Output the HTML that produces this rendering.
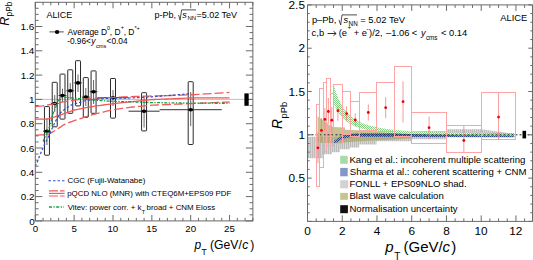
<!DOCTYPE html>
<html><head><meta charset="utf-8"><style>
html,body{margin:0;padding:0;background:#fff;}
svg{display:block;}
text{font-family:"Liberation Sans",sans-serif;fill:#000;}
</style></head><body>
<svg width="533" height="260" viewBox="0 0 533 260">
<rect width="533" height="260" fill="#fff"/>
<defs>
<pattern id="pg" patternUnits="userSpaceOnUse" width="2" height="2"><rect width="2" height="2" fill="#f2faf2"/><rect x="0" y="0" width="1" height="1" fill="#86d086"/><rect x="1" y="1" width="1" height="1" fill="#86d086"/></pattern>
<pattern id="pb" patternUnits="userSpaceOnUse" width="2" height="2"><rect width="2" height="2" fill="#909cc8"/><rect x="0" y="0" width="1" height="1" fill="#2c4690"/><rect x="1" y="1" width="1" height="1" fill="#2c4690"/></pattern>
<pattern id="pgray" patternUnits="userSpaceOnUse" width="2" height="2"><rect width="2" height="2" fill="#d6d6d6"/><rect x="0" y="0" width="1" height="2" fill="#bcbcbc"/></pattern>
<pattern id="polive" patternUnits="userSpaceOnUse" width="2" height="2"><rect width="2" height="2" fill="#c4b47a"/><rect x="0" y="0" width="2" height="1" fill="#ae9e62"/></pattern>
</defs>
<line x1="35.30" y1="99.40" x2="252.86" y2="99.40" stroke="#b0b0b0" stroke-width="0.8"/>
<rect x="44.45" y="106.60" width="5" height="48.60" fill="none" stroke="#2a2a2a" stroke-width="1" rx="0.6"/>
<line x1="46.95" y1="118.00" x2="46.95" y2="145.00" stroke="#666" stroke-width="1"/>
<line x1="43.07" y1="131.20" x2="50.84" y2="131.20" stroke="#333" stroke-width="1"/>
<ellipse cx="46.95" cy="131.20" rx="2.4" ry="1.8" fill="#000"/>
<rect x="52.22" y="82.30" width="5" height="44.50" fill="none" stroke="#2a2a2a" stroke-width="1" rx="0.6"/>
<line x1="54.72" y1="95.00" x2="54.72" y2="112.00" stroke="#666" stroke-width="1"/>
<line x1="50.84" y1="103.50" x2="58.61" y2="103.50" stroke="#333" stroke-width="1"/>
<ellipse cx="54.72" cy="103.50" rx="2.4" ry="1.8" fill="#000"/>
<rect x="59.99" y="74.10" width="5" height="45.00" fill="none" stroke="#2a2a2a" stroke-width="1" rx="0.6"/>
<line x1="62.49" y1="88.70" x2="62.49" y2="102.00" stroke="#666" stroke-width="1"/>
<line x1="58.61" y1="95.50" x2="66.38" y2="95.50" stroke="#333" stroke-width="1"/>
<ellipse cx="62.49" cy="95.50" rx="2.4" ry="1.8" fill="#000"/>
<rect x="67.76" y="69.80" width="5" height="43.50" fill="none" stroke="#2a2a2a" stroke-width="1" rx="0.6"/>
<line x1="70.26" y1="83.00" x2="70.26" y2="99.00" stroke="#666" stroke-width="1"/>
<line x1="66.38" y1="90.80" x2="74.15" y2="90.80" stroke="#333" stroke-width="1"/>
<ellipse cx="70.26" cy="90.80" rx="2.4" ry="1.8" fill="#000"/>
<rect x="75.53" y="60.70" width="5" height="45.20" fill="none" stroke="#2a2a2a" stroke-width="1" rx="0.6"/>
<line x1="78.03" y1="74.50" x2="78.03" y2="92.00" stroke="#666" stroke-width="1"/>
<line x1="74.15" y1="82.90" x2="81.92" y2="82.90" stroke="#333" stroke-width="1"/>
<ellipse cx="78.03" cy="82.90" rx="2.4" ry="1.8" fill="#000"/>
<rect x="83.30" y="77.60" width="5" height="39.70" fill="none" stroke="#2a2a2a" stroke-width="1" rx="0.6"/>
<line x1="85.80" y1="88.00" x2="85.80" y2="106.00" stroke="#666" stroke-width="1"/>
<line x1="81.92" y1="97.10" x2="89.69" y2="97.10" stroke="#333" stroke-width="1"/>
<ellipse cx="85.80" cy="97.10" rx="2.4" ry="1.8" fill="#000"/>
<rect x="91.07" y="70.90" width="5" height="42.40" fill="none" stroke="#2a2a2a" stroke-width="1" rx="0.6"/>
<line x1="93.57" y1="80.00" x2="93.57" y2="104.00" stroke="#666" stroke-width="1"/>
<line x1="89.69" y1="91.70" x2="97.46" y2="91.70" stroke="#333" stroke-width="1"/>
<ellipse cx="93.57" cy="91.70" rx="2.4" ry="1.8" fill="#000"/>
<rect x="110.50" y="78.50" width="5" height="39.60" fill="none" stroke="#2a2a2a" stroke-width="1" rx="0.6"/>
<line x1="113.00" y1="90.00" x2="113.00" y2="106.00" stroke="#666" stroke-width="1"/>
<line x1="97.46" y1="97.70" x2="128.54" y2="97.70" stroke="#333" stroke-width="1"/>
<ellipse cx="113.00" cy="97.70" rx="2.4" ry="1.8" fill="#000"/>
<rect x="141.58" y="92.70" width="5" height="38.20" fill="none" stroke="#2a2a2a" stroke-width="1" rx="0.6"/>
<line x1="144.08" y1="96.00" x2="144.08" y2="127.50" stroke="#666" stroke-width="1"/>
<line x1="128.54" y1="111.20" x2="159.62" y2="111.20" stroke="#333" stroke-width="1"/>
<ellipse cx="144.08" cy="111.20" rx="2.4" ry="1.8" fill="#000"/>
<rect x="188.20" y="81.70" width="5" height="62.80" fill="none" stroke="#2a2a2a" stroke-width="1" rx="0.6"/>
<line x1="190.70" y1="92.00" x2="190.70" y2="126.20" stroke="#666" stroke-width="1"/>
<line x1="159.62" y1="109.70" x2="221.78" y2="109.70" stroke="#333" stroke-width="1"/>
<ellipse cx="190.70" cy="109.70" rx="2.4" ry="1.8" fill="#000"/>
<polyline points="35.30,106.60 37.73,106.35 40.16,106.10 42.58,105.85 45.01,105.45 47.44,105.01 49.87,104.58 52.30,104.10 54.72,103.60 57.15,103.10 59.58,102.61 62.01,102.14 64.44,101.67 66.87,101.23 69.29,100.91 71.72,100.58 74.15,100.25 76.58,99.92 79.01,99.59 81.43,99.27 83.86,99.08 86.29,98.93 88.72,98.78 91.15,98.63 93.57,98.48 96.00,98.33 98.43,98.18 100.86,98.03 103.29,97.90 105.72,97.78 108.14,97.65 110.57,97.53 113.00,97.40 115.43,97.28 117.86,97.15 120.28,97.03 122.71,96.93 125.14,96.85 127.57,96.77 130.00,96.68 132.43,96.60 134.85,96.52 137.28,96.43 139.71,96.35 142.14,96.27 144.57,96.19 146.99,96.12 149.42,96.06 151.85,96.00 154.28,95.94 156.71,95.88 159.13,95.81 161.56,95.75 163.99,95.69 166.42,95.62 168.85,95.56 171.27,95.50 173.70,95.44 176.13,95.36 178.56,95.25 180.99,95.15 183.42,95.05 185.84,94.94 188.27,94.84 190.70,94.73 193.13,94.63 195.56,94.53 197.98,94.42 200.41,94.28 202.84,94.12 205.27,93.96 207.70,93.81 210.12,93.65 212.55,93.49 214.98,93.34 217.41,93.18 219.84,93.03 222.27,92.87 224.69,92.71 227.12,92.56 229.55,92.40" fill="none" stroke="#f05a5a" stroke-width="1.3" stroke-dasharray="9,3"/>
<polyline points="35.30,119.20 37.73,119.20 40.16,119.20 42.58,119.20 45.01,119.20 47.44,119.05 49.87,118.30 52.30,117.55 54.72,116.80 57.15,115.98 59.58,115.17 62.01,114.35 64.44,113.53 66.87,112.66 69.29,111.77 71.72,110.89 74.15,110.00 76.58,109.54 79.01,109.08 81.43,108.61 83.86,108.15 86.29,107.69 88.72,107.22 91.15,106.76 93.57,106.30 96.00,105.97 98.43,105.64 100.86,105.32 103.29,104.99 105.72,104.66 108.14,104.33 110.57,104.04 113.00,103.77 115.43,103.50 117.86,103.22 120.28,102.95 122.71,102.68 125.14,102.41 127.57,102.14 130.00,101.87 132.43,101.60 134.85,101.35 137.28,101.10 139.71,100.85 142.14,100.60 144.57,100.35 146.99,100.10 149.42,99.85 151.85,99.60 154.28,99.50 156.71,99.40 159.13,99.30 161.56,99.20 163.99,99.10 166.42,99.00 168.85,98.90 171.27,98.80 173.70,98.70 176.13,98.60 178.56,98.50 180.99,98.40 183.42,98.30 185.84,98.20 188.27,98.10 190.70,98.00 193.13,97.99 195.56,97.97 197.98,97.96 200.41,97.95 202.84,97.94 205.27,97.92 207.70,97.91 210.12,97.90 212.55,97.89 214.98,97.88 217.41,97.86 219.84,97.85 222.27,97.84 224.69,97.83 227.12,97.81 229.55,97.80" fill="none" stroke="#f05a5a" stroke-width="1.3"/>
<polyline points="35.30,135.20 37.73,135.08 40.16,134.97 42.58,134.85 45.01,134.73 47.44,134.61 49.87,133.47 52.30,132.18 54.72,130.79 57.15,129.21 59.58,127.62 62.01,126.04 64.44,124.45 66.87,123.41 69.29,122.47 71.72,121.54 74.15,120.60 76.58,119.82 79.01,119.04 81.43,118.26 83.86,117.47 86.29,116.69 88.72,115.91 91.15,115.13 93.57,114.41 96.00,113.81 98.43,113.21 100.86,112.61 103.29,112.01 105.72,111.41 108.14,110.81 110.57,110.21 113.00,109.69 115.43,109.36 117.86,109.02 120.28,108.68 122.71,108.35 125.14,108.01 127.57,107.67 130.00,107.34 132.43,107.00 134.85,106.78 137.28,106.55 139.71,106.33 142.14,106.10 144.57,105.88 146.99,105.65 149.42,105.42 151.85,105.20 154.28,105.10 156.71,105.00 159.13,104.90 161.56,104.79 163.99,104.69 166.42,104.59 168.85,104.49 171.27,104.39 173.70,104.29 176.13,104.19 178.56,104.09 180.99,103.98 183.42,103.88 185.84,103.79 188.27,103.69 190.70,103.59 193.13,103.49 195.56,103.39 197.98,103.29 200.41,103.19 202.84,103.09 205.27,102.99 207.70,102.89 210.12,102.79 212.55,102.69 214.98,102.60 217.41,102.50 219.84,102.40 222.27,102.30 224.69,102.20 227.12,102.10 229.55,102.00" fill="none" stroke="#f05a5a" stroke-width="1.3" stroke-dasharray="9,3"/>
<polyline points="35.30,166.60 36.85,162.73 38.41,158.87 39.96,155.00 41.52,151.41 43.07,147.83 44.62,144.30 46.18,141.28 47.73,138.27 49.29,135.22 50.84,131.53 52.39,127.85 53.95,124.57 55.50,121.36 57.06,118.54 58.61,115.89 60.16,113.23 61.72,111.56 63.27,110.42 64.83,109.28 66.38,108.15 67.93,107.01 69.49,105.87 71.04,105.06 72.60,104.58 74.15,104.10 75.70,103.62 77.26,103.14 78.81,102.66 80.37,102.18 81.92,101.70 83.47,101.22 85.03,100.74 86.58,100.41 88.14,100.22 89.69,100.03 91.24,99.83 92.80,99.64 94.35,99.45 95.91,99.27 97.46,99.07 99.01,98.88 100.57,98.69 102.12,98.58 103.68,98.55 105.23,98.52 106.78,98.49 108.34,98.45 109.89,98.42 111.45,98.39 113.00,98.36 114.55,98.32 116.11,98.29 117.66,98.26 119.22,98.23 120.77,98.19 122.32,98.16 123.88,98.13 125.43,98.10 126.99,98.06 128.54,98.03 130.09,98.00 131.65,97.92 133.20,97.83 134.76,97.75 136.31,97.66 137.86,97.58 139.42,97.49 140.97,97.41 142.53,97.32 144.08,97.24 145.63,97.15 147.19,97.07 148.74,96.98 150.30,96.90 151.85,96.78 153.40,96.66 154.96,96.55 156.51,96.43 158.07,96.31 159.62,96.19 161.17,96.07 162.73,95.95 164.28,95.84 165.84,95.72 167.39,95.60 168.94,95.47 170.50,95.33 172.05,95.20 173.61,95.07 175.16,94.93 176.71,94.80 178.27,94.67 179.82,94.53 181.38,94.40 182.93,94.27 184.48,94.13 186.04,94.00 187.59,93.87 189.15,93.73 190.70,93.60" fill="none" stroke="#3050c8" stroke-width="1.2" stroke-dasharray="2.5,2"/>
<polyline points="43.07,141.50 44.62,137.93 46.18,134.37 47.73,130.80 49.29,127.23 50.84,123.00 52.39,115.00 53.95,111.38 55.50,107.75 57.06,104.12 58.61,100.50 60.16,99.02 61.72,97.54 63.27,96.90 64.83,97.10 66.38,97.30 67.93,97.50 69.49,97.70 71.04,97.87 72.60,98.01 74.15,98.15 75.70,98.29 77.26,98.43 78.81,98.58 80.37,98.72 81.92,98.86 83.47,99.00 85.03,99.14 86.58,99.28 88.14,99.42 89.69,99.56 91.24,99.70 92.80,99.84 94.35,99.99 95.91,100.13 97.46,100.27 99.01,100.41 100.57,100.54 102.12,100.65 103.68,100.76 105.23,100.87 106.78,100.98 108.34,101.09 109.89,101.20 111.45,101.25 113.00,101.29 114.55,101.34 116.11,101.38 117.66,101.43 119.22,101.48 120.77,101.52 122.32,101.57 123.88,101.62 125.43,101.66 126.99,101.71 128.54,101.75 130.09,101.80 131.65,101.86 133.20,101.91 134.76,101.97 136.31,102.03 137.86,102.09 139.42,102.14 140.97,102.20 142.53,102.26 144.08,102.31 145.63,102.37 147.19,102.43 148.74,102.49 150.30,102.54 151.85,102.60 153.40,102.62 154.96,102.64 156.51,102.66 158.07,102.68 159.62,102.70 161.17,102.72 162.73,102.74 164.28,102.76 165.84,102.78 167.39,102.80 168.94,102.82 170.50,102.84 172.05,102.86 173.61,102.88 175.16,102.90 176.71,102.92 178.27,102.94 179.82,102.96 181.38,102.98 182.93,103.00 184.48,103.02 186.04,103.04 187.59,103.06 189.15,103.08 190.70,103.10 192.25,103.11 193.81,103.12 195.36,103.12 196.92,103.13 198.47,103.14 200.02,103.15 201.58,103.16 203.13,103.16 204.69,103.17 206.24,103.18 207.79,103.19 209.35,103.20 210.90,103.20 212.46,103.21 214.01,103.22 215.56,103.23 217.12,103.24 218.67,103.24 220.23,103.25 221.78,103.26 223.33,103.27 224.89,103.28 226.44,103.28 228.00,103.29 229.55,103.30" fill="none" stroke="#10a040" stroke-width="1.3" stroke-dasharray="3,1.5,1.2,1.5"/>
<rect x="35.30" y="2.30" width="217.56" height="218.60" fill="none" stroke="#6a6a6a" stroke-width="1"/>
<path d="M35.30,220.90v-6M35.30,2.30v6M43.07,220.90v-3M43.07,2.30v3M50.84,220.90v-3M50.84,2.30v3M58.61,220.90v-3M58.61,2.30v3M66.38,220.90v-3M66.38,2.30v3M74.15,220.90v-6M74.15,2.30v6M81.92,220.90v-3M81.92,2.30v3M89.69,220.90v-3M89.69,2.30v3M97.46,220.90v-3M97.46,2.30v3M105.23,220.90v-3M105.23,2.30v3M113.00,220.90v-6M113.00,2.30v6M120.77,220.90v-3M120.77,2.30v3M128.54,220.90v-3M128.54,2.30v3M136.31,220.90v-3M136.31,2.30v3M144.08,220.90v-3M144.08,2.30v3M151.85,220.90v-6M151.85,2.30v6M159.62,220.90v-3M159.62,2.30v3M167.39,220.90v-3M167.39,2.30v3M175.16,220.90v-3M175.16,2.30v3M182.93,220.90v-3M182.93,2.30v3M190.70,220.90v-6M190.70,2.30v6M198.47,220.90v-3M198.47,2.30v3M206.24,220.90v-3M206.24,2.30v3M214.01,220.90v-3M214.01,2.30v3M221.78,220.90v-3M221.78,2.30v3M229.55,220.90v-6M229.55,2.30v6M237.32,220.90v-3M237.32,2.30v3M245.09,220.90v-3M245.09,2.30v3M252.86,220.90v-3M252.86,2.30v3M35.30,220.90h7.0M252.86,220.90h-7.0M35.30,214.83h3.3M252.86,214.83h-3.3M35.30,208.75h3.3M252.86,208.75h-3.3M35.30,202.68h3.3M252.86,202.68h-3.3M35.30,196.60h7.0M252.86,196.60h-7.0M35.30,190.53h3.3M252.86,190.53h-3.3M35.30,184.45h3.3M252.86,184.45h-3.3M35.30,178.38h3.3M252.86,178.38h-3.3M35.30,172.30h7.0M252.86,172.30h-7.0M35.30,166.22h3.3M252.86,166.22h-3.3M35.30,160.15h3.3M252.86,160.15h-3.3M35.30,154.07h3.3M252.86,154.07h-3.3M35.30,148.00h7.0M252.86,148.00h-7.0M35.30,141.93h3.3M252.86,141.93h-3.3M35.30,135.85h3.3M252.86,135.85h-3.3M35.30,129.78h3.3M252.86,129.78h-3.3M35.30,123.70h7.0M252.86,123.70h-7.0M35.30,117.62h3.3M252.86,117.62h-3.3M35.30,111.55h3.3M252.86,111.55h-3.3M35.30,105.47h3.3M252.86,105.47h-3.3M35.30,99.40h7.0M252.86,99.40h-7.0M35.30,93.33h3.3M252.86,93.33h-3.3M35.30,87.25h3.3M252.86,87.25h-3.3M35.30,81.17h3.3M252.86,81.17h-3.3M35.30,75.10h7.0M252.86,75.10h-7.0M35.30,69.03h3.3M252.86,69.03h-3.3M35.30,62.95h3.3M252.86,62.95h-3.3M35.30,56.88h3.3M252.86,56.88h-3.3M35.30,50.80h7.0M252.86,50.80h-7.0M35.30,44.72h3.3M252.86,44.72h-3.3M35.30,38.65h3.3M252.86,38.65h-3.3M35.30,32.57h3.3M252.86,32.57h-3.3M35.30,26.50h7.0M252.86,26.50h-7.0M35.30,20.42h3.3M252.86,20.42h-3.3M35.30,14.35h3.3M252.86,14.35h-3.3M35.30,8.28h3.3M252.86,8.28h-3.3" stroke="#6a6a6a" stroke-width="1" fill="none"/>
<rect x="244.4" y="93.4" width="4.3" height="12.4" fill="#000"/>
<polygon points="307.50,136.80 322.70,136.80 322.70,136.80 332.00,136.80 332.00,136.80 340.00,136.80 340.00,136.80 350.00,136.80 350.00,136.60 359.20,136.60 359.20,136.40 376.50,136.40 376.50,136.20 394.00,136.20 394.00,134.50 411.30,134.50 411.30,131.00 446.00,131.00 446.00,129.20 481.00,129.20 481.00,129.20 512.70,133.60 515.00,134.50 512.70,134.50 481.00,134.50 481.00,134.50 446.00,134.50 446.00,139.20 411.30,139.20 411.30,141.30 394.00,141.30 394.00,141.30 376.50,141.30 376.50,144.60 359.20,144.60 359.20,147.50 350.00,147.50 350.00,149.30 340.00,149.30 340.00,152.30 332.00,152.30 332.00,154.20 322.70,154.20 322.70,158.30 307.50,158.30" fill="url(#pgray)" stroke="none"/>
<polygon points="317.60,116.20 330.00,125.40 333.00,127.00 345.00,127.60 345.00,129.80 365.00,130.60 395.00,132.00 411.00,132.50 411.00,138.60 395.00,139.40 360.00,141.20 345.00,142.60 333.00,143.20 317.60,142.40" fill="#a8a25e" fill-opacity="0.66" stroke="none"/>
<polygon points="333.00,141.60 337.70,138.20 341.50,136.00 345.40,134.80 349.20,134.00 355.00,133.40 359.80,133.20 400.00,133.30 514.40,133.40 514.40,137.20 400.00,136.90 359.80,136.80 355.00,137.00 349.20,137.40 345.40,138.20 341.50,139.60 337.70,141.80 333.00,144.60" fill="url(#pb)" stroke="none"/>
<polygon points="333.56,83.98 333.61,84.19 333.72,84.61 333.87,85.17 334.05,85.85 334.26,86.62 334.50,87.46 334.77,88.37 335.06,89.33 335.37,90.34 335.70,91.37 336.06,92.43 336.43,93.51 336.83,94.60 337.24,95.69 337.67,96.79 338.11,97.88 338.58,98.96 339.06,100.04 339.56,101.09 340.07,102.14 340.60,103.16 341.14,104.16 341.70,105.14 342.28,106.10 342.87,107.03 343.47,107.94 344.09,108.83 344.72,109.69 345.36,110.52 346.02,111.33 346.69,112.12 347.38,112.87 348.07,113.61 348.78,114.32 349.51,115.00 350.24,115.66 350.99,116.30 351.75,116.92 352.52,117.51 353.31,118.09 354.10,118.64 354.91,119.17 355.73,119.69 356.56,120.18 357.40,120.66 358.26,121.11 359.12,121.56 360.00,121.98 360.88,122.39 361.78,122.78 362.69,123.16 363.61,123.53 364.54,123.88 365.48,124.22 366.43,124.54 367.39,124.86 368.37,125.16 369.35,125.45 370.34,125.73 371.34,126.00 372.36,126.26 373.38,126.51 374.41,126.75 375.45,126.99 376.51,127.21 377.57,127.43 378.64,127.64 379.72,127.84 380.81,128.03 381.91,128.22 383.02,128.40 384.14,128.57 385.27,128.74 386.41,128.90 387.56,129.06 388.72,129.21 389.88,129.36 391.06,129.50 392.24,129.63 393.43,129.76 394.64,129.89 395.85,130.01 397.07,130.13 398.29,130.25 399.53,130.36 400.78,130.47 402.03,130.57 403.30,130.67 404.57,130.77 405.85,130.86 407.14,130.95 408.44,131.04 409.74,131.13 411.06,131.21 412.38,131.29 413.72,131.37 415.06,131.44 416.40,131.51 417.76,131.58 419.13,131.65 420.50,131.72 421.88,131.78 423.27,131.85 424.67,131.91 426.07,131.97 427.49,132.02 428.91,132.08 430.34,132.13 431.78,132.18 433.22,132.23 434.68,132.28 436.14,132.33 437.61,132.38 439.08,132.42 440.57,132.47 442.06,132.51 443.56,132.55 445.07,132.59 446.59,132.63 448.11,132.67 449.64,132.71 451.18,132.74 452.73,132.78 454.28,132.81 455.84,132.84 457.41,132.88 458.99,132.91 460.57,132.94 462.16,132.97 463.76,133.00 465.37,133.03 466.98,133.05 468.60,133.08 470.23,133.11 471.87,133.13 473.51,133.16 475.16,133.18 476.82,133.21 478.48,133.23 480.15,133.25 481.83,133.27 483.52,133.30 485.21,133.32 486.91,133.34 488.62,133.36 490.33,133.38 492.06,133.40 493.78,133.41 495.52,133.43 497.26,133.45 499.01,133.47 500.77,133.48 502.53,133.50 504.30,133.52 506.08,133.53 507.87,133.55 509.66,133.56 511.45,133.58 513.26,133.59 515.07,133.61 515.07,135.64 513.26,135.64 511.45,135.63 509.66,135.62 507.87,135.61 506.08,135.60 504.30,135.59 502.53,135.58 500.77,135.56 499.01,135.55 497.26,135.54 495.52,135.53 493.78,135.52 492.06,135.51 490.33,135.49 488.62,135.48 486.91,135.47 485.21,135.45 483.52,135.44 481.83,135.43 480.15,135.41 478.48,135.40 476.82,135.38 475.16,135.37 473.51,135.35 471.87,135.33 470.23,135.32 468.60,135.30 466.98,135.28 465.37,135.26 463.76,135.25 462.16,135.23 460.57,135.21 458.99,135.19 457.41,135.17 455.84,135.14 454.28,135.12 452.73,135.10 451.18,135.08 449.64,135.05 448.11,135.03 446.59,135.00 445.07,134.98 443.56,134.95 442.06,134.92 440.57,134.90 439.08,134.87 437.61,134.84 436.14,134.81 434.68,134.78 433.22,134.74 431.78,134.71 430.34,134.68 428.91,134.64 427.49,134.61 426.07,134.57 424.67,134.53 423.27,134.49 421.88,134.45 420.50,134.41 419.13,134.36 417.76,134.32 416.40,134.27 415.06,134.22 413.72,134.17 412.38,134.12 411.06,134.07 409.74,134.02 408.44,133.96 407.14,133.90 405.85,133.84 404.57,133.78 403.30,133.72 402.03,133.65 400.78,133.58 399.53,133.51 398.29,133.44 397.07,133.36 395.85,133.29 394.64,133.21 393.43,133.12 392.24,133.04 391.06,132.95 389.88,132.85 388.72,132.76 387.56,132.66 386.41,132.56 385.27,132.45 384.14,132.34 383.02,132.23 381.91,132.11 380.81,131.99 379.72,131.86 378.64,131.73 377.57,131.59 376.51,131.45 375.45,131.30 374.41,131.15 373.38,130.99 372.36,130.82 371.34,130.65 370.34,130.48 369.35,130.29 368.37,130.10 367.39,129.90 366.43,129.70 365.48,129.48 364.54,129.26 363.61,129.03 362.69,128.79 361.78,128.54 360.88,128.28 360.00,128.01 359.12,127.73 358.26,127.44 357.40,127.14 356.56,126.83 355.73,126.51 354.91,126.17 354.10,125.82 353.31,125.46 352.52,125.08 351.75,124.69 350.99,124.29 350.24,123.87 349.51,123.43 348.78,122.98 348.07,122.52 347.38,122.03 346.69,121.54 346.02,121.02 345.36,120.49 344.72,119.94 344.09,119.38 343.47,118.80 342.87,118.20 342.28,117.59 341.70,116.96 341.14,116.31 340.60,115.66 340.07,114.98 339.56,114.30 339.06,113.61 338.58,112.90 338.11,112.19 337.67,111.47 337.24,110.76 336.83,110.04 336.43,109.32 336.06,108.61 335.70,107.92 335.37,107.24 335.06,106.58 334.77,105.95 334.50,105.35 334.26,104.80 334.05,104.29 333.87,103.85 333.72,103.48 333.61,103.20 333.56,103.07" fill="url(#pg)" stroke="none"/>
<line x1="307.50" y1="134.80" x2="532.50" y2="134.80" stroke="#222" stroke-width="1" stroke-dasharray="2,2"/>
<rect x="316.50" y="104.50" width="3.00" height="82.00" fill="none" stroke="#ffa4a4" stroke-width="1"/>
<rect x="319.50" y="88.50" width="4.00" height="79.00" fill="none" stroke="#ffa4a4" stroke-width="1"/>
<rect x="323.50" y="82.50" width="3.00" height="69.00" fill="none" stroke="#ffa4a4" stroke-width="1"/>
<rect x="326.50" y="78.50" width="4.00" height="67.00" fill="none" stroke="#ffa4a4" stroke-width="1"/>
<rect x="330.50" y="93.50" width="3.00" height="52.00" fill="none" stroke="#ffa4a4" stroke-width="1"/>
<rect x="333.50" y="84.50" width="9.00" height="59.00" fill="none" stroke="#ffa4a4" stroke-width="1"/>
<rect x="342.50" y="91.50" width="8.00" height="43.00" fill="none" stroke="#ffa4a4" stroke-width="1"/>
<rect x="350.50" y="101.50" width="9.00" height="35.00" fill="none" stroke="#ffa4a4" stroke-width="1"/>
<rect x="359.50" y="92.50" width="17.00" height="38.00" fill="none" stroke="#ffa4a4" stroke-width="1"/>
<rect x="376.50" y="82.50" width="18.00" height="49.00" fill="none" stroke="#ffa4a4" stroke-width="1"/>
<rect x="394.50" y="66.50" width="17.00" height="70.00" fill="none" stroke="#ffa4a4" stroke-width="1"/>
<rect x="411.50" y="112.50" width="35.00" height="31.00" fill="none" stroke="#ffa4a4" stroke-width="1"/>
<rect x="446.50" y="125.50" width="35.00" height="27.00" fill="none" stroke="#ffa4a4" stroke-width="1"/>
<rect x="481.50" y="92.50" width="34.00" height="47.00" fill="none" stroke="#ffa4a4" stroke-width="1"/>
<line x1="317.92" y1="132.00" x2="317.92" y2="163.00" stroke="#f48080" stroke-width="0.8"/>
<circle cx="317.92" cy="147.80" r="1.4" fill="#f00000"/>
<line x1="321.40" y1="118.00" x2="321.40" y2="143.00" stroke="#f48080" stroke-width="0.8"/>
<circle cx="321.40" cy="130.40" r="1.4" fill="#f00000"/>
<line x1="324.87" y1="108.00" x2="324.87" y2="131.00" stroke="#f48080" stroke-width="0.8"/>
<circle cx="324.87" cy="119.40" r="1.4" fill="#f00000"/>
<line x1="328.34" y1="98.00" x2="328.34" y2="124.00" stroke="#f48080" stroke-width="0.8"/>
<circle cx="328.34" cy="111.50" r="1.4" fill="#f00000"/>
<line x1="331.82" y1="107.00" x2="331.82" y2="133.00" stroke="#f48080" stroke-width="0.8"/>
<circle cx="331.82" cy="120.20" r="1.4" fill="#f00000"/>
<line x1="337.90" y1="106.30" x2="337.90" y2="120.80" stroke="#f48080" stroke-width="0.8"/>
<circle cx="337.90" cy="110.70" r="1.4" fill="#f00000"/>
<line x1="346.58" y1="106.30" x2="346.58" y2="121.30" stroke="#f48080" stroke-width="0.8"/>
<circle cx="346.58" cy="113.60" r="1.4" fill="#f00000"/>
<line x1="355.27" y1="113.30" x2="355.27" y2="126.50" stroke="#f48080" stroke-width="0.8"/>
<circle cx="355.27" cy="120.00" r="1.4" fill="#f00000"/>
<line x1="368.30" y1="104.40" x2="368.30" y2="120.60" stroke="#f48080" stroke-width="0.8"/>
<circle cx="368.30" cy="112.50" r="1.4" fill="#f00000"/>
<line x1="385.67" y1="97.10" x2="385.67" y2="118.30" stroke="#f48080" stroke-width="0.8"/>
<circle cx="385.67" cy="107.70" r="1.4" fill="#f00000"/>
<line x1="403.04" y1="81.30" x2="403.04" y2="122.50" stroke="#f48080" stroke-width="0.8"/>
<circle cx="403.04" cy="101.70" r="1.4" fill="#f00000"/>
<line x1="429.09" y1="116.50" x2="429.09" y2="139.00" stroke="#f48080" stroke-width="0.8"/>
<circle cx="429.09" cy="127.70" r="1.4" fill="#f00000"/>
<line x1="463.83" y1="125.80" x2="463.83" y2="152.00" stroke="#f48080" stroke-width="0.8"/>
<circle cx="463.83" cy="140.50" r="1.4" fill="#f00000"/>
<line x1="498.57" y1="92.80" x2="498.57" y2="140.00" stroke="#f48080" stroke-width="0.8"/>
<circle cx="498.57" cy="117.10" r="1.4" fill="#f00000"/>
<rect x="522.5" y="130.8" width="3.6" height="7.6" fill="#000"/>
<path d="M307.50,4.90H532.50V221.40H307.50Z" fill="none" stroke="#6a6a6a" stroke-width="1"/>
<path d="M307.50,221.40v-6M307.50,4.90v6M316.19,221.40v-3M316.19,4.90v3M324.87,221.40v-3M324.87,4.90v3M333.56,221.40v-3M333.56,4.90v3M342.24,221.40v-6M342.24,4.90v6M350.93,221.40v-3M350.93,4.90v3M359.61,221.40v-3M359.61,4.90v3M368.30,221.40v-3M368.30,4.90v3M376.98,221.40v-6M376.98,4.90v6M385.67,221.40v-3M385.67,4.90v3M394.35,221.40v-3M394.35,4.90v3M403.04,221.40v-3M403.04,4.90v3M411.72,221.40v-6M411.72,4.90v6M420.40,221.40v-3M420.40,4.90v3M429.09,221.40v-3M429.09,4.90v3M437.77,221.40v-3M437.77,4.90v3M446.46,221.40v-6M446.46,4.90v6M455.14,221.40v-3M455.14,4.90v3M463.83,221.40v-3M463.83,4.90v3M472.51,221.40v-3M472.51,4.90v3M481.20,221.40v-6M481.20,4.90v6M489.88,221.40v-3M489.88,4.90v3M498.57,221.40v-3M498.57,4.90v3M507.25,221.40v-3M507.25,4.90v3M515.94,221.40v-6M515.94,4.90v6M524.62,221.40v-3M524.62,4.90v3M307.50,221.40h4.2M532.50,221.40h-4.2M307.50,212.74h2.2M532.50,212.74h-2.2M307.50,204.08h2.2M532.50,204.08h-2.2M307.50,195.42h2.2M532.50,195.42h-2.2M307.50,186.76h2.2M532.50,186.76h-2.2M307.50,178.10h4.2M532.50,178.10h-4.2M307.50,169.44h2.2M532.50,169.44h-2.2M307.50,160.78h2.2M532.50,160.78h-2.2M307.50,152.12h2.2M532.50,152.12h-2.2M307.50,143.46h2.2M532.50,143.46h-2.2M307.50,134.80h4.2M532.50,134.80h-4.2M307.50,126.14h2.2M532.50,126.14h-2.2M307.50,117.48h2.2M532.50,117.48h-2.2M307.50,108.82h2.2M532.50,108.82h-2.2M307.50,100.16h2.2M532.50,100.16h-2.2M307.50,91.50h4.2M532.50,91.50h-4.2M307.50,82.84h2.2M532.50,82.84h-2.2M307.50,74.18h2.2M532.50,74.18h-2.2M307.50,65.52h2.2M532.50,65.52h-2.2M307.50,56.86h2.2M532.50,56.86h-2.2M307.50,48.20h4.2M532.50,48.20h-4.2M307.50,39.54h2.2M532.50,39.54h-2.2M307.50,30.88h2.2M532.50,30.88h-2.2M307.50,22.22h2.2M532.50,22.22h-2.2M307.50,13.56h2.2M532.50,13.56h-2.2M307.50,4.90h4.2M532.50,4.90h-4.2" stroke="#6a6a6a" stroke-width="1" fill="none"/>
<rect x="340.2" y="155.8" width="7.5" height="8" fill="#a6daa6"/>
<rect x="340.2" y="167.9" width="7.5" height="8.4" fill="#8596c8"/>
<rect x="340.2" y="180.2" width="8" height="8.1" fill="#d2d2d2"/>
<rect x="340.2" y="192.9" width="7.7" height="6.9" fill="#c6c490"/>
<rect x="340.2" y="205.2" width="7.7" height="8" fill="#111"/>
<line x1="48.5" y1="180.7" x2="64.6" y2="180.7" stroke="#3050c8" stroke-width="1.1" stroke-dasharray="2.5,2"/>
<line x1="49" y1="190.8" x2="64.6" y2="190.8" stroke="#f05a5a" stroke-width="1.2" stroke-dasharray="9,2"/>
<line x1="49" y1="193.4" x2="64.6" y2="193.4" stroke="#f05a5a" stroke-width="1.2"/>
<line x1="49" y1="196.0" x2="64.6" y2="196.0" stroke="#f05a5a" stroke-width="1.2" stroke-dasharray="9,2"/>
<line x1="49" y1="207" x2="64" y2="207" stroke="#10a040" stroke-width="1.3" stroke-dasharray="3,1.5,1.2,1.5"/>
<line x1="49.4" y1="31.9" x2="63.8" y2="31.9" stroke="#555" stroke-width="1"/>
<ellipse cx="57.1" cy="31.9" rx="2.2" ry="2" fill="#000"/>
<path d="M178.6,14.9 L180.1,20.1 L181.6,9.9 H196" fill="none" stroke="#222" stroke-width="0.8"/>
<path d="M339.0,19.9 L340.7,25.0 L342.0,14.9 H357" fill="none" stroke="#222" stroke-width="0.8"/>
<path d="M327.6,33.5 H335.8 M333.5,31.3 L336.2,33.5 L333.5,35.7" fill="none" stroke="#111" stroke-width="0.85"/>
<text x="20.70" y="200.10" font-size="9.90">0.2</text>
<text x="20.50" y="175.80" font-size="9.90">0.4</text>
<text x="20.60" y="151.50" font-size="9.90">0.6</text>
<text x="20.60" y="127.20" font-size="9.90">0.8</text>
<text x="28.90" y="102.90" font-size="9.90">1</text>
<text x="20.70" y="78.60" font-size="9.90">1.2</text>
<text x="20.50" y="54.30" font-size="9.90">1.4</text>
<text x="20.60" y="30.00" font-size="9.90">1.6</text>
<text x="29.35" y="224.60" font-size="9.90">0</text>
<text x="32.65" y="231.70" font-size="9.70">0</text>
<text x="71.47" y="231.70" font-size="9.70">5</text>
<text x="107.45" y="231.70" font-size="9.70">10</text>
<text x="146.30" y="231.70" font-size="9.70">15</text>
<text x="185.27" y="231.70" font-size="9.70">20</text>
<text x="224.12" y="231.70" font-size="9.70">25</text>
<text x="46.50" y="17.90" font-size="8.90">ALICE</text>
<text x="154.60" y="18.20" font-size="9.00">p-Pb,</text>
<text x="182.35" y="18.20" font-size="9.00" font-style="italic">s</text>
<text x="187.50" y="20.10" font-size="6.00">NN</text>
<text x="196.45" y="18.00" font-size="9.00">=5.02 TeV</text>
<text x="67.50" y="34.50" font-size="8.45">Average D</text>
<text x="107.00" y="29.60" font-size="5.40">0</text>
<text x="109.85" y="34.50" font-size="8.45">, D</text>
<text x="120.75" y="29.40" font-size="5.60">+</text>
<text x="123.65" y="34.50" font-size="8.45">, D</text>
<text x="134.40" y="29.60" font-size="5.60">*+</text>
<text x="67.15" y="43.60" font-size="8.30">-0.96&lt;</text>
<text x="91.30" y="43.60" font-size="8.50" font-style="italic">y</text>
<text x="95.95" y="48.30" font-size="5.70">cms</text>
<text x="106.60" y="43.60" font-size="8.30">&lt;0.04</text>
<text x="67.50" y="183.30" font-size="7.90">CGC (Fujii-Watanabe)</text>
<text x="67.20" y="196.30" font-size="7.90">pQCD NLO (MNR) with CTEQ6M+EPS09 PDF</text>
<text x="67.65" y="209.60" font-size="7.90">Vitev: power corr. + k</text>
<text x="141.70" y="213.80" font-size="5.50">T</text>
<text x="146.50" y="209.60" font-size="7.90">broad + CNM Eloss</text>
<text x="194.50" y="249.10" font-size="12.00" font-style="italic">p</text>
<text x="201.60" y="255.00" font-size="8.60">T</text>
<text x="209.95" y="249.10" font-size="12.20">(GeV/</text>
<text x="242.20" y="249.10" font-size="12.20" font-style="italic">c</text>
<text x="250.30" y="249.10" font-size="12.20">)</text>
<text transform="translate(9.4,25.7) rotate(-90)" font-size="12.6" font-style="italic">R</text>
<text transform="translate(12.1,16.4) rotate(-90)" font-size="8.3">pPb</text>
<text x="288.55" y="182.10" font-size="11.80">0.5</text>
<text x="298.45" y="138.80" font-size="11.80">1</text>
<text x="288.55" y="95.50" font-size="11.80">1.5</text>
<text x="298.50" y="52.20" font-size="11.80">2</text>
<text x="288.55" y="8.90" font-size="11.80">2.5</text>
<text x="304.25" y="234.50" font-size="11.80">0</text>
<text x="338.99" y="234.50" font-size="11.80">2</text>
<text x="373.78" y="234.50" font-size="11.80">4</text>
<text x="408.42" y="234.50" font-size="11.80">6</text>
<text x="443.21" y="234.50" font-size="11.80">8</text>
<text x="474.45" y="234.50" font-size="11.80">10</text>
<text x="509.27" y="234.50" font-size="11.80">12</text>
<text x="311.90" y="22.90" font-size="9.40">p–Pb,</text>
<text x="343.45" y="22.90" font-size="9.30" font-style="italic">s</text>
<text x="348.60" y="25.50" font-size="6.30">NN</text>
<text x="360.15" y="22.90" font-size="9.40">= 5.02 TeV</text>
<text x="311.60" y="35.60" font-size="9.40">c,b</text>
<text x="338.70" y="35.60" font-size="9.40">(e</text>
<text x="347.60" y="30.40" font-size="6.40">+</text>
<text x="353.75" y="35.60" font-size="9.40">+ e</text>
<text x="366.60" y="30.60" font-size="6.40">-</text>
<text x="369.05" y="35.60" font-size="9.40">)/2,</text>
<text x="386.00" y="35.60" font-size="9.40">–1.06</text>
<text x="411.85" y="35.60" font-size="9.40">&lt;</text>
<text x="421.10" y="35.60" font-size="9.30" font-style="italic">y</text>
<text x="425.95" y="40.30" font-size="6.30">cms</text>
<text x="440.95" y="35.60" font-size="9.40">&lt;</text>
<text x="448.95" y="35.60" font-size="9.40">0.14</text>
<text x="500.20" y="20.80" font-size="9.40">ALICE</text>
<text x="349.40" y="162.90" font-size="9.60">Kang et al.: incoherent multiple scattering</text>
<text x="349.75" y="174.80" font-size="9.60">Sharma et al.: coherent scattering + CNM</text>
<text x="349.40" y="186.90" font-size="9.60">FONLL + EPS09NLO shad.</text>
<text x="349.40" y="199.30" font-size="9.60">Blast wave calculation</text>
<text x="349.40" y="211.80" font-size="9.60">Normalisation uncertainty</text>
<text x="385.15" y="252.00" font-size="15.00" font-style="italic">p</text>
<text x="394.20" y="259.60" font-size="10.00">T</text>
<text x="403.55" y="252.00" font-size="15.00">(GeV/</text>
<text x="442.60" y="252.00" font-size="15.00" font-style="italic">c</text>
<text x="451.30" y="252.00" font-size="15.00">)</text>
<text transform="translate(282.3,129.0) rotate(-90)" font-size="13.8" font-style="italic">R</text>
<text transform="translate(286.6,118.4) rotate(-90)" font-size="9.4">pPb</text>
</svg>
</body></html>
